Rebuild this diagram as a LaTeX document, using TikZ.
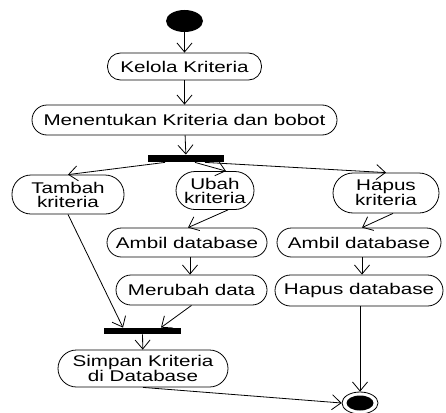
\documentclass[tikz,border=0pt]{standalone}
\usepackage{fontspec}
\setmainfont{Liberation Sans}[FakeStretch=1.33]
\usetikzlibrary{arrows.meta,shapes.geometric}
\begin{document}
\begin{tikzpicture}[x=1pt,y=-1pt,
  line width=0.8pt,
  act/.style={draw, rectangle, inner sep=0pt, align=center,
    font=\fontsize{15.5}{14}\selectfont},
  bar/.style={fill=black, rectangle, inner sep=0pt},
  flow/.style={-{Straight Barb[length=9pt,width=15pt,line width=0.8pt]}}
]
\useasboundingbox (0,0) rectangle (446,412);

% states
\node[ellipse, fill=black, minimum width=37pt, minimum height=22pt, inner sep=0pt] (start) at (184.5,21) {};
\node[act, minimum width=154pt, minimum height=27pt, rounded corners=13pt] (kelola) at (184.5,66.5) {Kelola Kriteria};
\node[act, minimum width=305pt, minimum height=30pt, rounded corners=15pt] (tentukan) at (184.5,120) {Menentukan Kriteria dan bobot};
\node[bar, minimum width=76pt, minimum height=7pt] (fork) at (186,158.5) {};
\node[act, minimum width=112pt, minimum height=39pt, rounded corners=19pt] (tambah) at (68,194.5) {Tambah\\kriteria};
\node[act, minimum width=78pt, minimum height=38pt, rounded corners=19pt] (ubah) at (215,190.5) {Ubah\\kriteria};
\node[act, minimum width=106pt, minimum height=40pt, rounded corners=20pt] (hapusk) at (386,193) {Hapus\\kriteria};
\node[act, minimum width=160pt, minimum height=29pt, rounded corners=14.5pt] (ambilA) at (187,242.5) {Ambil database};
\node[act, minimum width=164pt, minimum height=29pt, rounded corners=14.5pt] (ambilB) at (359,242.5) {Ambil database};
\node[act, minimum width=151pt, minimum height=30pt, rounded corners=15pt] (rubah) at (191.5,290) {Merubah data};
\node[act, minimum width=168pt, minimum height=31pt, rounded corners=15.5pt] (hapusdb) at (359,290.5) {Hapus database};
\node[bar, minimum width=77pt, minimum height=6pt] (join) at (142.5,331) {};
\node[act, minimum width=170pt, minimum height=37pt, rounded corners=18.5pt] (simpan) at (143,368.5) {Simpan Kriteria\\di Database};
\node[ellipse, draw, minimum width=36pt, minimum height=22pt, inner sep=0pt] (end) at (360,403) {};
\node[ellipse, fill=black, minimum width=27pt, minimum height=15pt, inner sep=0pt] (endcore) at (end.center) {};

% transitions
\draw[flow] (start) -- (kelola);
\draw[flow] (kelola) -- (tentukan);
\draw[flow] (tentukan) -- (fork);
\draw[flow] ([xshift=-21pt]fork.south) -- (tambah.north);
\draw[flow] ([xshift=9pt]fork.south) -- ([xshift=11pt]ubah.north);
\draw[flow] ([xshift=19pt]fork.south) -- (hapusk.north);
\draw[flow] ([xshift=13pt]ubah.south) -- ([xshift=1pt]ambilA.north);
\draw[flow] ([xshift=7pt]hapusk.south) -- ([xshift=3pt]ambilB.north);
\draw[flow] ([xshift=3pt]ambilA.south) -- ([xshift=-1.5pt]rubah.north);
\draw[flow] ([xshift=3pt]ambilB.south) -- ([xshift=3pt]hapusdb.north);
\draw[flow] (tambah.south) -- ([xshift=-19.5pt]join.north);
\draw[flow] (rubah.south) -- ([xshift=18.5pt]join.north);
\draw[flow] (join) -- (simpan);
\draw[flow] ([xshift=1pt]hapusdb.south) -- (end.north);
\draw[flow] (simpan.south) -- (end.west);
\end{tikzpicture}
\end{document}
